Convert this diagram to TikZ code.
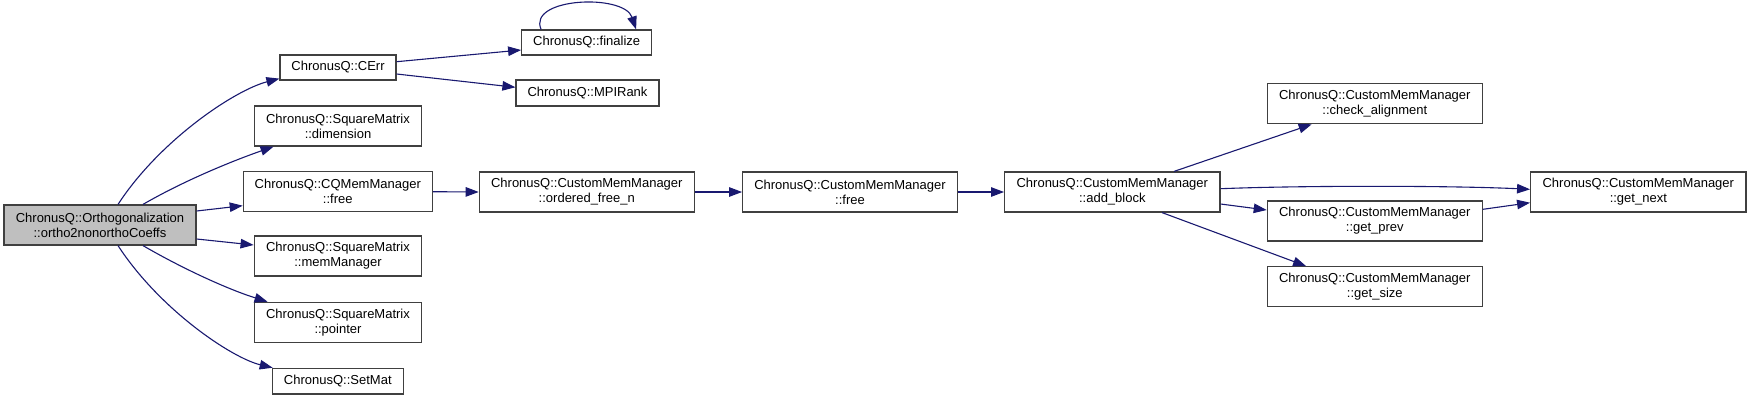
\documentclass[tikz,border=0pt]{standalone}
\usepackage{fontspec}
\setmainfont{Liberation Sans}
\usetikzlibrary{arrows.meta,calc}
\definecolor{edgeblue}{HTML}{191970}
\definecolor{boxline}{HTML}{404040}
\definecolor{mainfill}{HTML}{BFBFBF}
\begin{document}
\begin{tikzpicture}[x=1pt,y=-1pt,
  fn/.style={draw=boxline, line width=1.2pt, rectangle, minimum height=40pt, inner sep=0pt,
    align=center, font=\fontsize{13}{15}\selectfont, text=black},
  fn1/.style={fn, minimum height=25pt},
  call/.style={draw=edgeblue, line width=1.1pt, -{Triangle[length=13pt,width=9.5pt]}}]
\useasboundingbox (0,0) rectangle (1751,400);

\node[fn, fill=mainfill, minimum width=192pt] (main) at (100,225) {ChronusQ::Orthogonalization\\::ortho2nonorthoCoeffs};
\node[fn1, minimum width=116pt] (cerr) at (338,67.5) {ChronusQ::CErr};
\node[fn1, minimum width=130pt] (fin) at (586.7,42.5) {ChronusQ::finalize};
\node[fn1, minimum width=143pt, minimum height=26pt] (mpi) at (587.5,93) {ChronusQ::MPIRank};
\node[fn, minimum width=167.7pt] (dim) at (338,126) {ChronusQ::SquareMatrix\\::dimension};
\node[fn, minimum width=189pt] (cqf) at (337.8,191.7) {ChronusQ::CQMemManager\\::free};
\node[fn, minimum width=167.7pt] (memm) at (338,256) {ChronusQ::SquareMatrix\\::memManager};
\node[fn, minimum width=167.7pt] (ptr) at (338,322.3) {ChronusQ::SquareMatrix\\::pointer};
\node[fn1, minimum width=131pt, minimum height=25.7pt] (setm) at (337.8,381.2) {ChronusQ::SetMat};
\node[fn, minimum width=215pt] (ofn) at (586.8,192) {ChronusQ::CustomMemManager\\::ordered\_free\_n};
\node[fn, minimum width=214.6pt] (cmf) at (850,192) {ChronusQ::CustomMemManager\\::free};
\node[fn, minimum width=215.3pt] (ab) at (1112.3,192) {ChronusQ::CustomMemManager\\::add\_block};
\node[fn, minimum width=215pt] (ca) at (1374.8,103.7) {ChronusQ::CustomMemManager\\::check\_alignment};
\node[fn, minimum width=215pt] (gp) at (1374.8,221) {ChronusQ::CustomMemManager\\::get\_prev};
\node[fn, minimum width=215pt] (gs) at (1374.8,286.7) {ChronusQ::CustomMemManager\\::get\_size};
\node[fn, minimum width=215.3pt] (gn) at (1638.3,192) {ChronusQ::CustomMemManager\\::get\_next};

% from main
\draw[call] ([xshift=18pt]main.north) .. controls (160,140) and (235,90) .. ([yshift=2pt]cerr.south west);
\draw[call] ([xshift=43pt]main.north) .. controls (185,180) and (235,160) .. ([xshift=20pt]dim.south west);
\draw[call] ([yshift=14pt]main.east) -- ([yshift=-14pt]cqf.west);
\draw[call] ([yshift=-14pt]main.east) -- ([yshift=11pt]memm.west);
\draw[call] ([xshift=43pt]main.south) .. controls (185,270) and (230,290) .. ([xshift=14pt]ptr.north west);
\draw[call] ([xshift=18pt]main.south) .. controls (160,310) and (232,358) .. ([xshift=1pt]setm.north west);

% CErr
\draw[call] ([yshift=5.8pt]cerr.east) -- ([yshift=-7.5pt]fin.west);
\draw[call] ([yshift=-6.5pt]cerr.east) -- ([yshift=5.7pt]mpi.west);
\draw[call] ([xshift=20pt]fin.north west) .. controls +(-14,-32) and +(-12,-36) .. ([xshift=115pt]fin.north west);

% chain
\draw[call] (cqf.east) -- (ofn.west);
\draw[call] (ofn.east) -- (cmf.west);
\draw[call] (cmf.east) -- (ab.west);

% add_block
\draw[call] ([xshift=170pt]ab.north west) -- ([xshift=45pt]ca.south west);
\draw[call] ([yshift=3.3pt]ab.east) .. controls (1300,185.5) and (1450,185.5) .. ([yshift=2.7pt]gn.west);
\draw[call] ([yshift=-12pt]ab.east) -- ([yshift=11pt]gp.west);
\draw[call] ([xshift=158pt]ab.south west) -- ([xshift=39.4pt]gs.north west);
\draw[call] ([yshift=11.7pt]gp.east) -- ([yshift=-10.7pt]gn.west);
\end{tikzpicture}
\end{document}
